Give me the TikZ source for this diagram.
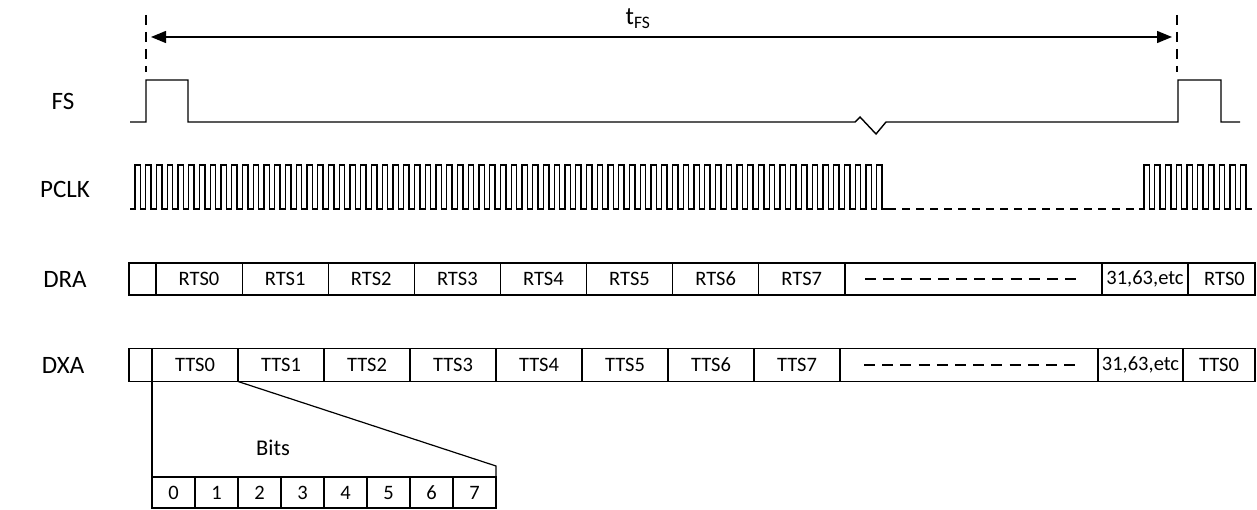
\documentclass[tikz,border=0pt]{standalone}
\usepackage{fontspec}
\setmainfont{Carlito}
\usetikzlibrary{arrows.meta}
\tikzset{
  wave/.style={line width=1.4pt, line join=miter},
  cell/.style={draw, line width=1.2pt, rectangle, inner sep=0pt, outer sep=0pt, font=\fontsize{20.5}{24}\selectfont},
  siglabel/.style={font=\fontsize{25}{30}\selectfont, inner sep=0pt},
  guide/.style={line width=1.3pt, dash pattern=on 10pt off 7pt},
  dimarrow/.style={line width=1.3pt, {Triangle[length=15pt,width=12pt]}-{Triangle[length=15pt,width=12pt]}},
  gap/.style={line width=1.4pt, dash pattern=on 11pt off 7.2pt},
  link/.style={line width=1.2pt}
}
\begin{document}
\begin{tikzpicture}[x=1pt,y=-1pt]
\useasboundingbox (0,0) rectangle (1257,510);

% guides and period arrow
\coordinate (gL1) at (146,15); \coordinate (gL2) at (146,72);
\coordinate (gR1) at (1177,15); \coordinate (gR2) at (1177,72);
\draw[guide] (gL1) -- (gL2);
\draw[guide] (gR1) -- (gR2);
\coordinate (aL) at (146,37); \coordinate (aR) at (1177,37);
\draw[dimarrow, shorten <=5pt, shorten >=5pt] (aL) -- (aR);
\node[font=\fontsize{25}{30}\selectfont, inner sep=0pt] (tfs) at (638,19) {t\textsubscript{FS}};

% labels
\node[siglabel] (lfs) at (63,101) {FS};
\node[siglabel] (lpclk) at (65,189) {PCLK};
\node[siglabel] (ldra) at (65,279) {DRA};
\node[siglabel] (ldxa) at (63,365) {DXA};

% FS waveform
\draw[wave] (130,122) -- (146,122) -- (146,80) -- (188,80) -- (188,122) -- (855,122)
  -- (860,117) -- (876,134) -- (886,122) -- (1178,122) -- (1178,80) -- (1221,80)
  -- (1221,122) -- (1240,122);

% PCLK waveform
\draw[wave] (130,209) -- (135,209)
  \foreach \i in {1,...,70} { -- ++(0,-44) -- ++(5.375,0) -- ++(0,44) -- ++(5.375,0) };
\draw[wave, dash pattern=on 8pt off 6pt] (888,209) -- (1140,209);
\draw[wave] (1139,209) -- (1144,209)
  \foreach \i in {1,...,10} { -- ++(0,-44) -- ++(5.375,0) -- ++(0,44) -- ++(5.375,0) };

% DRA row
\node[cell, minimum width=27pt, minimum height=32pt, anchor=west] (r_) at (129,279) {};
\foreach \k in {0,...,7} {
  \node[cell, minimum width=86.1pt, minimum height=32pt, anchor=west] (r\k) at ({156+86.1*\k},279) {RTS\k};
}
\node[cell, minimum width=257pt, minimum height=32pt, anchor=west] (rgap) at (845,279) {};
\node[cell, minimum width=86pt, minimum height=32pt, anchor=west] (retc) at (1102,279) {31,63,etc};
\node[cell, minimum width=67pt, minimum height=32pt, anchor=west] (rlast) at (1188,279) {\hspace*{6pt}RTS0};
\coordinate (rg1) at ([xshift=20pt]rgap.west);
\coordinate (rg2) at ([xshift=-20pt]rgap.east);
\draw[gap] (rg1) -- (rg2);

% DXA row
\node[cell, minimum width=23pt, minimum height=33pt, anchor=west] (t_) at (129,365) {};
\foreach \k in {0,...,7} {
  \node[cell, minimum width=86pt, minimum height=33pt, anchor=west] (t\k) at ({152+86*\k},365) {TTS\k};
}
\node[cell, minimum width=258pt, minimum height=33pt, anchor=west] (tgap) at (840,365) {};
\node[cell, minimum width=85pt, minimum height=33pt, anchor=west] (tetc) at (1098,365) {31,63,etc};
\node[cell, minimum width=72pt, minimum height=33pt, anchor=west] (tlast) at (1183,365) {TTS0};
\coordinate (tg1) at ([xshift=24pt]tgap.west);
\coordinate (tg2) at ([xshift=-19pt]tgap.east);
\draw[gap] (tg1) -- (tg2);

% Bits expansion
\foreach \k in {0,...,7} {
  \node[cell, minimum width=43pt, minimum height=31pt, anchor=west] (b\k) at ({152+43*\k},492.5) {\k};
}
\node[font=\fontsize{22.5}{26}\selectfont, inner sep=0pt] (bits) at (273,448) {Bits};
\coordinate (bk) at ([yshift=11pt]b7.north east);
\draw[link] (t0.south west) -- (b0.north west);
\draw[link] (t1.south west) -- (bk) -- (b7.north east);
\end{tikzpicture}
\end{document}
